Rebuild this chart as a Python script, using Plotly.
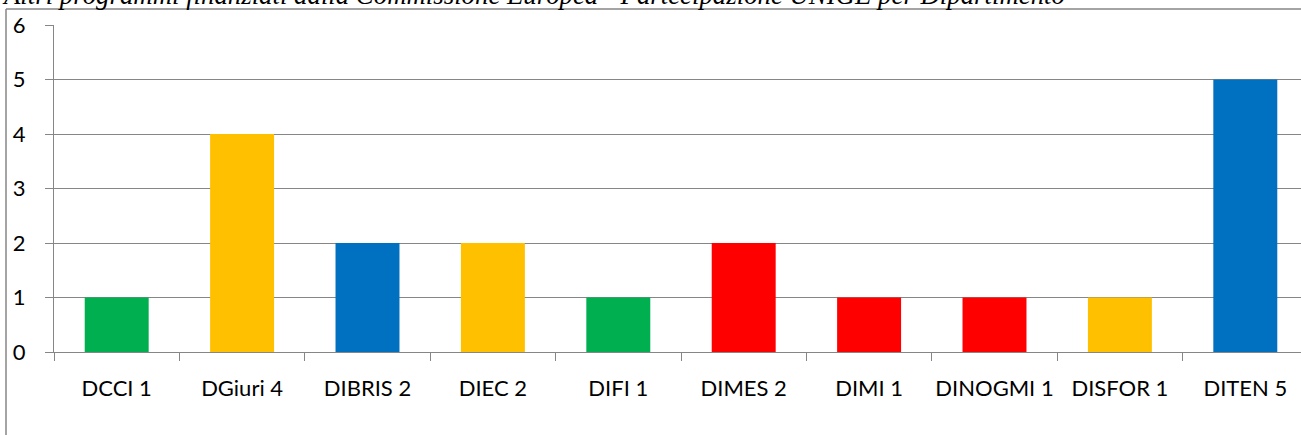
import plotly.graph_objects as go

categories = ["DCCI 1", "DGiuri 4", "DIBRIS 2", "DIEC 2", "DIFI 1",
              "DIMES 2", "DIMI 1", "DINOGMI 1", "DISFOR 1", "DITEN 5"]
values = [1, 4, 2, 2, 1, 2, 1, 1, 1, 5]
colors = ["#00B050", "#FFC000", "#0070C0", "#FFC000", "#00B050",
          "#FF0000", "#FF0000", "#FF0000", "#FFC000", "#0070C0"]
y_ticks = [0, 1, 2, 3, 4, 5, 6]
title_text = "Altri programmi finanziati dalla Commissione Europea - Partecipazione UNIGE per Dipartimento"

W, H = 1301, 435
L, T, B = 54, 25, 83
plot_w = W - L
plot_h = H - T - B
cat_px = 125.4
axis_gray = "#868686"

fig = go.Figure(go.Bar(
    x=categories, y=values, marker=dict(color=colors, line=dict(width=0)),
    width=0.51, hoverinfo="x+y"))

fig.update_layout(
    width=W, height=H,
    margin=dict(l=L, r=0, t=T, b=B, pad=0, autoexpand=False),
    paper_bgcolor="white", plot_bgcolor="white",
    showlegend=False,
    font=dict(family="Lato, sans-serif", size=22, color="#000000"),
    bargap=0.49,
)

fig.update_xaxes(
    type="category", automargin=False, tickangle=0,
    range=[-0.5, -0.5 + plot_w / cat_px],
    showgrid=False,
    showline=True, linecolor=axis_gray, linewidth=1.25,
    ticks="outside", tickson="boundaries", ticklen=8, tickcolor=axis_gray, tickwidth=1.25,
    ticklabelstandoff=16,
    tickfont=dict(family="Lato, sans-serif", size=22, color="#000000"),
    fixedrange=True,
)
fig.update_yaxes(
    range=[0, 6], tickvals=y_ticks, automargin=False,
    showgrid=True, gridcolor=axis_gray, gridwidth=1.25,
    showline=True, linecolor=axis_gray, linewidth=1.25,
    zeroline=False,
    ticks="outside", ticklen=8, tickcolor=axis_gray, tickwidth=1.25,
    ticklabelstandoff=15,
    tickfont=dict(family="Lato, sans-serif", size=22, color="#000000"),
    fixedrange=True,
)

# outer chart border (left and top edges visible)
bx = (6 - L) / plot_w
by = 1 + (T - 9) / plot_h
fig.add_shape(type="line", xref="paper", yref="paper", x0=bx, x1=bx, y0=by, y1=-0.5,
              line=dict(color=axis_gray, width=1.5))
fig.add_shape(type="line", xref="paper", yref="paper", x0=bx, x1=1.2, y0=by, y1=by,
              line=dict(color=axis_gray, width=1.5))

fig.add_annotation(
    text=title_text, xref="paper", yref="paper",
    x=(0 - L) / plot_w, xanchor="left",
    y=1 + (T + 5) / plot_h, yanchor="middle",
    showarrow=False,
    font=dict(family="Liberation Serif", size=26.8, color="#000000", style="italic"),
)

fig.write_html("out.html", config={"displayModeBar": False},
               post_script="document.body.style.margin='0px';document.body.style.padding='0px';")
